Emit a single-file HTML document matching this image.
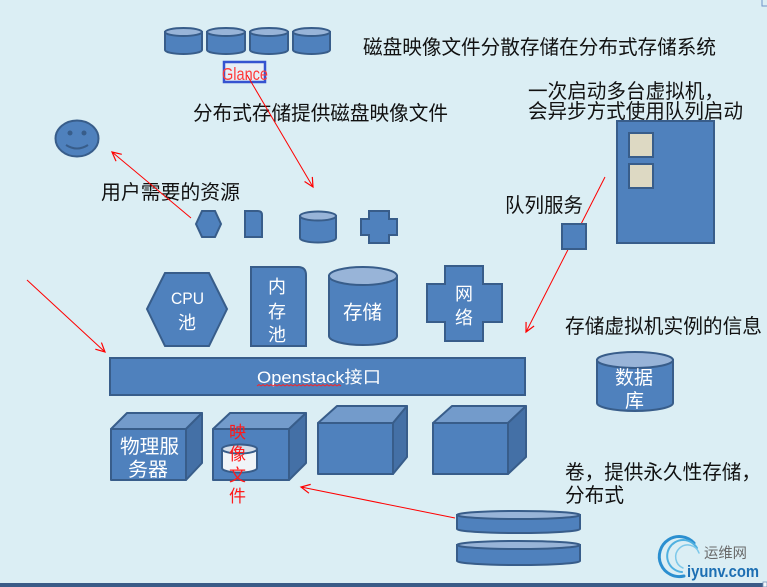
<!DOCTYPE html>
<html>
<head>
<meta charset="utf-8">
<style>
html,body{margin:0;padding:0;background:#DBEEF4;}
svg{display:block;}
text{font-family:"Liberation Sans","Noto Sans CJK SC",sans-serif;}
</style>
</head>
<body>
<svg width="767" height="587" viewBox="0 0 767 587" xmlns="http://www.w3.org/2000/svg">
<defs>
<marker id="ah" markerWidth="12" markerHeight="12" refX="10" refY="5" orient="auto" markerUnits="userSpaceOnUse">
<polyline points="1,0.5 10,5 1,9.5" fill="none" stroke="#ff0000" stroke-width="1.2"/>
</marker>
</defs>
<rect x="0" y="0" width="767" height="587" fill="#DBEEF4"/>

<!-- top cylinders -->
<g fill="#4F81BD" stroke="#385D8A" stroke-width="2">
<path d="M165,32 L165,50 A18.5,4 0 0 0 202,50 L202,32 Z"/>
<ellipse cx="183.5" cy="32" rx="18.5" ry="4" fill="#98B4D8"/>
<path d="M207,32 L207,50 A19,4 0 0 0 245,50 L245,32 Z"/>
<ellipse cx="226" cy="32" rx="19" ry="4" fill="#98B4D8"/>
<path d="M250,32 L250,50 A19,4 0 0 0 288,50 L288,32 Z"/>
<ellipse cx="269" cy="32" rx="19" ry="4" fill="#98B4D8"/>
<path d="M293,32 L293,50 A18.5,4 0 0 0 330,50 L330,32 Z"/>
<ellipse cx="311.5" cy="32" rx="18.5" ry="4" fill="#98B4D8"/>
</g>

<!-- Glance box -->
<rect x="224" y="62" width="41" height="20" fill="#E6EEF6" stroke="#3553D0" stroke-width="2.5"/>
<text x="222" y="80" font-size="17.5" fill="#FF3B3B" textLength="46" lengthAdjust="spacingAndGlyphs">Glance</text>

<!-- labels -->
<g font-size="20" fill="#111">
<text x="363" y="54" textLength="353" lengthAdjust="spacingAndGlyphs">磁盘映像文件分散存储在分布式存储系统</text>
<text x="193" y="120" textLength="255" lengthAdjust="spacingAndGlyphs">分布式存储提供磁盘映像文件</text>
<text x="101" y="199" textLength="139" lengthAdjust="spacingAndGlyphs">用户需要的资源</text>
<text x="528" y="98" textLength="196" lengthAdjust="spacingAndGlyphs">一次启动多台虚拟机，</text>
<text x="528" y="118" textLength="215" lengthAdjust="spacingAndGlyphs">会异步方式使用队列启动</text>
<text x="505" y="212" textLength="78" lengthAdjust="spacingAndGlyphs">队列服务</text>
<text x="565" y="333" textLength="197" lengthAdjust="spacingAndGlyphs">存储虚拟机实例的信息</text>
<text x="565" y="479" textLength="196" lengthAdjust="spacingAndGlyphs">卷，提供永久性存储，</text>
<text x="565" y="502" textLength="59" lengthAdjust="spacingAndGlyphs">分布式</text>
</g>

<!-- smiley -->
<ellipse cx="77" cy="138.5" rx="21.5" ry="18" fill="#4F81BD" stroke="#385D8A" stroke-width="2"/>
<ellipse cx="70" cy="133" rx="2.5" ry="2.5" fill="#385D8A"/>
<ellipse cx="84" cy="133" rx="2.5" ry="2.5" fill="#385D8A"/>
<path d="M66,145 Q77,152 88,145" fill="none" stroke="#385D8A" stroke-width="2"/>

<!-- small resources row -->
<g fill="#4F81BD" stroke="#385D8A" stroke-width="2">
<polygon points="196,224 202,211 215,211 221,224 215,237 202,237"/>
<path d="M245,211 L258,211 Q262,211 262,215 L262,237 L245,237 Z"/>
<path d="M300,216 L300,238 A18,4.5 0 0 0 336,238 L336,216 Z"/>
<ellipse cx="318" cy="216" rx="18" ry="4.5" fill="#98B4D8"/>
<polygon points="369,211 389,211 389,219 397,219 397,235 389,235 389,243 369,243 369,235 361,235 361,219 369,219"/>
</g>

<!-- VM box -->
<rect x="617" y="121" width="97" height="122" fill="#4F81BD" stroke="#385D8A" stroke-width="2"/>
<rect x="629" y="133" width="24" height="24" fill="#DDD9C3" stroke="#385D8A" stroke-width="2"/>
<rect x="629" y="164" width="24" height="24" fill="#DDD9C3" stroke="#385D8A" stroke-width="2"/>

<!-- queue line (behind queue box) -->
<line x1="605" y1="177" x2="526" y2="332" stroke="#ff0000" stroke-width="1" marker-end="url(#ah)"/>
<rect x="562" y="224" width="24" height="25" fill="#4F81BD" stroke="#385D8A" stroke-width="2"/>

<!-- main resources -->
<g fill="#4F81BD" stroke="#385D8A" stroke-width="2">
<polygon points="147,309 165,273 209,273 227,309 209,346 165,346"/>
<path d="M251,267 L298,267 Q306,267 306,275 L306,346 L251,346 Z"/>
<path d="M329,276 L329,336 A34,9 0 0 0 397,336 L397,276 Z"/>
<ellipse cx="363" cy="276" rx="34" ry="9" fill="#98B4D8"/>
<polygon points="445,266 483,266 483,284 502,284 502,322 483,322 483,341 445,341 445,322 427,322 427,284 445,284"/>
</g>
<g fill="#fff">
<text x="171" y="304" font-size="17" textLength="33" lengthAdjust="spacingAndGlyphs">CPU</text>
<text x="178" y="329" font-size="18">池</text>
<text x="268" y="293" font-size="18">内</text>
<text x="268" y="318" font-size="18">存</text>
<text x="268" y="341" font-size="18">池</text>
<text x="343" y="319" font-size="19.5">存储</text>
<text x="455" y="300" font-size="18">网</text>
<text x="455" y="324" font-size="18">络</text>
</g>

<!-- Openstack bar -->
<rect x="110" y="358" width="415" height="37" fill="#4F81BD" stroke="#385D8A" stroke-width="2"/>
<text x="257" y="383" font-size="17" fill="#fff" textLength="124" lengthAdjust="spacingAndGlyphs">Openstack接口</text>
<path d="M257,386 l2,-1.5 l2,1.5 l2,-1.5 l2,1.5 l2,-1.5 l2,1.5 l2,-1.5 l2,1.5 l2,-1.5 l2,1.5 l2,-1.5 l2,1.5 l2,-1.5 l2,1.5 l2,-1.5 l2,1.5 l2,-1.5 l2,1.5 l2,-1.5 l2,1.5 l2,-1.5 l2,1.5 l2,-1.5 l2,1.5 l2,-1.5 l2,1.5 l2,-1.5 l2,1.5 l2,-1.5 l2,1.5 l2,-1.5 l2,1.5 l2,-1.5 l2,1.5 l2,-1.5 l2,1.5 l2,-1.5 l2,1.5 l2,-1.5 l2,1.5 l2,-1.5 l2,1.5" fill="none" stroke="#ff2020" stroke-width="0.8"/>

<!-- 3D boxes -->
<g stroke="#385D8A" stroke-width="2" stroke-linejoin="round">
<polygon points="111,429 127,413 202,413 186,429" fill="#739BCB"/>
<polygon points="186,429 202,413 202,463 186,480" fill="#4470A6"/>
<rect x="111" y="429" width="75" height="51" fill="#4F81BD"/>

<polygon points="213,429 230,413 306,413 289,429" fill="#739BCB"/>
<polygon points="289,429 306,413 306,463 289,480" fill="#4470A6"/>
<rect x="213" y="429" width="76" height="51" fill="#4F81BD"/>

<polygon points="318,423 337,406 407,406 393,423" fill="#739BCB"/>
<polygon points="393,423 407,406 407,457 393,474" fill="#4470A6"/>
<rect x="318" y="423" width="75" height="51" fill="#4F81BD"/>

<polygon points="433,423 452,406 526,406 508,423" fill="#739BCB"/>
<polygon points="508,423 526,406 526,457 508,474" fill="#4470A6"/>
<rect x="433" y="423" width="75" height="51" fill="#4F81BD"/>
</g>
<g fill="#fff" font-size="19.5">
<text x="120" y="453" textLength="59" lengthAdjust="spacingAndGlyphs">物理服</text>
<text x="128" y="476" textLength="40" lengthAdjust="spacingAndGlyphs">务器</text>
</g>
<!-- small cylinder in box 2 -->
<g stroke="#385D8A" stroke-width="2">
<path d="M222,449 L222,468 A17.5,4.5 0 0 0 257,468 L257,449 Z" fill="#F0F4F8"/>
<ellipse cx="239.5" cy="449" rx="17.5" ry="4.5" fill="#D4DDE8"/>
</g>
<g fill="#ff1a1a" font-size="17">
<text x="229" y="438">映</text>
<text x="229" y="460">像</text>
<text x="229" y="481">文</text>
<text x="229" y="502">件</text>
</g>

<!-- database -->
<g fill="#4F81BD" stroke="#385D8A" stroke-width="2">
<path d="M597,360 L597,403 A38,8 0 0 0 673,403 L673,360 Z"/>
<ellipse cx="635" cy="360" rx="38" ry="8" fill="#98B4D8"/>
</g>
<g fill="#fff" font-size="19">
<text x="615" y="384">数据</text>
<text x="625" y="407">库</text>
</g>

<!-- volume disks -->
<g fill="#4F81BD" stroke="#385D8A" stroke-width="2">
<path d="M457,515 L457,529 A61.5,4 0 0 0 580,529 L580,515 Z"/>
<ellipse cx="518.5" cy="515" rx="61.5" ry="4" fill="#98B4D8"/>
<path d="M457,545 L457,561 A61.5,4 0 0 0 580,561 L580,545 Z"/>
<ellipse cx="518.5" cy="545" rx="61.5" ry="4" fill="#98B4D8"/>
</g>

<!-- arrows -->
<g stroke="#ff0000" stroke-width="1" fill="none">
<line x1="191" y1="218" x2="112" y2="152" marker-end="url(#ah)"/>
<line x1="247" y1="75" x2="313" y2="187" marker-end="url(#ah)"/>
<line x1="27" y1="280" x2="105" y2="352" marker-end="url(#ah)"/>
<line x1="455" y1="518" x2="301" y2="487" marker-end="url(#ah)"/>
</g>

<!-- watermark -->
<g fill="none" stroke-linecap="round">
<path d="M694,543 A20,20 0 1 0 684,576" stroke="#2B8FD0" stroke-width="3"/>
<path d="M697,548 A16,16 0 1 0 682,572" stroke="#4FB0E0" stroke-width="2"/>
<path d="M699,553 A12,12 0 1 0 683,568" stroke="#7CC8EA" stroke-width="1.5"/>
</g>
<text x="704" y="558" font-size="14.5" fill="#6A6A6A" textLength="43" lengthAdjust="spacingAndGlyphs">运维网</text>
<text x="687" y="577" font-size="17" font-weight="bold" fill="#1D6FB3" textLength="72" lengthAdjust="spacingAndGlyphs">iyunv.com</text>

<!-- bottom bar -->
<rect x="0" y="583" width="767" height="4" fill="#3B5B87"/>
<rect x="763" y="582" width="4" height="5" fill="#F2F6FA" stroke="#7A95B8" stroke-width="0.8"/>
<path d="M762,0 L762,6 L767,6" fill="none" stroke="#6F93C8" stroke-width="1"/>
</svg>
</body>
</html>
